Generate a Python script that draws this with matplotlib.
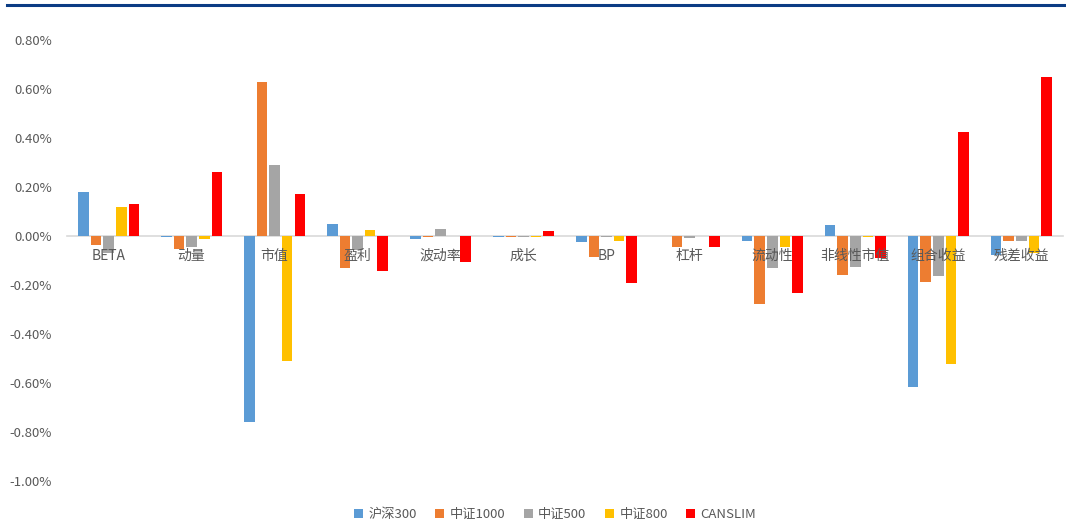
import matplotlib
matplotlib.use('Agg')
import matplotlib.pyplot as plt
import numpy as np
from matplotlib.lines import Line2D
from matplotlib.ticker import FuncFormatter

plt.rcParams['font.family'] = ['Noto Sans CJK SC', 'DejaVu Sans']

categories = ['BETA', '动量', '市值', '盈利', '波动率', '成长', 'BP', '杠杆',
              '流动性', '非线性市值', '组合收益', '残差收益']
series_names = ['沪深300', '中证1000', '中证500', '中证800', 'CANSLIM']

# values in %
hs300 = [0.181, -0.005, -0.760, 0.049, -0.011, -0.004, -0.026, 0.0, -0.020, 0.044, -0.615, -0.078]
zz1000 = [-0.037, -0.053, 0.627, -0.132, -0.005, -0.004, -0.087, -0.046, -0.278, -0.159, -0.188, -0.022]
zz500 = [-0.068, -0.046, 0.289, -0.057, 0.028, -0.004, -0.005, -0.008, -0.132, -0.128, -0.163, -0.022]
zz800 = [0.120, -0.011, -0.510, 0.024, 0.0, -0.004, -0.020, 0.0, -0.046, -0.005, -0.524, -0.068]
canslim = [0.130, 0.262, 0.171, -0.143, -0.107, 0.019, -0.193, -0.046, -0.234, -0.091, 0.424, 0.649]

colors = ['#5B9BD5', '#ED7D31', '#A5A5A5', '#FFC000', '#FF0000']
data = [hs300, zz1000, zz500, zz800, canslim]

fig = plt.figure(figsize=(10.66, 5.21), dpi=100)
ax = fig.add_axes([0.063, 0.077, 0.934, 0.846])

x = np.arange(len(categories))
slot = 0.152
for i, (name, vals, c) in enumerate(zip(series_names, data, colors)):
    ax.bar(x + (i - 2) * slot, vals, width=slot * 0.84, color=c,
           edgecolor='none', label=name, zorder=1)

ax.set_xlim(-0.5, len(categories) - 0.5)
ax.set_ylim(-1.0, 0.8)
ax.set_yticks(np.arange(-1.0, 0.81, 0.2))
ax.yaxis.set_major_formatter(FuncFormatter(lambda v, p: f'{abs(v) if abs(v) < 1e-9 else v:.2f}%'))

for s in ['top', 'right', 'left']:
    ax.spines[s].set_visible(False)
ax.spines['bottom'].set_position(('data', 0))
ax.spines['bottom'].set_color('#d9d9d9')
ax.spines['bottom'].set_linewidth(1.2)
ax.spines['bottom'].set_zorder(0.5)

ax.set_xticks(x)
ax.set_xticklabels(categories)
ax.xaxis.set_zorder(5)
ax.tick_params(axis='x', length=0, pad=9, labelsize=10, labelcolor='#595959')
ax.tick_params(axis='y', length=0, pad=11, labelsize=9.5, labelcolor='#595959')

ax.legend(loc='upper center', bbox_to_anchor=(0.49, -0.035), ncol=5, frameon=False,
          fontsize=9.5, handlelength=0.7, handleheight=0.7, handletextpad=0.4,
          columnspacing=1.4, labelcolor='#595959')

fig.add_artist(Line2D([0.007, 1.0], [0.99, 0.99], color='#0B3C84', linewidth=2.2,
                      transform=fig.transFigure))

fig.savefig('out.png', dpi=100)
